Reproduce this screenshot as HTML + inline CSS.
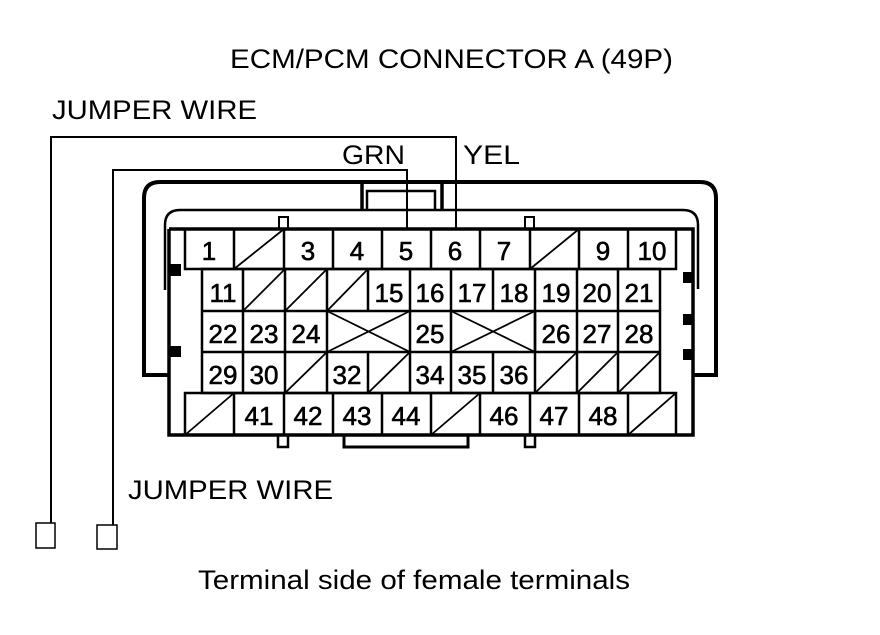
<!DOCTYPE html>
<html><head><style>html,body{margin:0;padding:0;background:#fff}</style></head>
<body>
<svg width="880" height="630" viewBox="0 0 880 630" xmlns="http://www.w3.org/2000/svg" font-family="Liberation Sans, Arial, sans-serif">
<rect width="880" height="630" fill="#fff"/>
<g fill="#000" font-size="27">
<text x="230" y="68" textLength="443" lengthAdjust="spacingAndGlyphs">ECM/PCM CONNECTOR A (49P)</text>
<text x="52" y="119" textLength="205" lengthAdjust="spacingAndGlyphs">JUMPER WIRE</text>
<text x="342" y="164" textLength="63" lengthAdjust="spacingAndGlyphs">GRN</text>
<text x="463" y="164" textLength="57" lengthAdjust="spacingAndGlyphs">YEL</text>
<text x="128" y="499" textLength="205" lengthAdjust="spacingAndGlyphs">JUMPER WIRE</text>
<text x="198" y="589" textLength="432" lengthAdjust="spacingAndGlyphs">Terminal side of female terminals</text>
</g>
<g fill="none" stroke="#000">
<polyline points="51,523 51,137 456,137 456,229" stroke-width="2"/>
<polyline points="113,525 113,170 407,170 407,229" stroke-width="2"/>
<rect x="36" y="523" width="19" height="25" stroke-width="1.5"/>
<rect x="97" y="525" width="20" height="24" stroke-width="1.5"/>
<path d="M169,375 H144 V198 Q144,182 160,182 H700 Q716,182 716,198 V375 H693" stroke-width="4"/>
<path d="M165,290 V225 Q165,210 180,210 H683 Q698,210 698,225 V289" stroke-width="2.5"/>
<line x1="362" y1="182" x2="362" y2="211" stroke-width="3.5"/>
<line x1="442" y1="182" x2="442" y2="211" stroke-width="3.5"/>
<polyline points="367,210 367,191 435,191 435,210" stroke-width="2.5"/>
<rect x="279" y="217" width="9" height="12" stroke-width="2"/>
<rect x="525" y="217" width="9" height="12" stroke-width="2"/>
<rect x="278" y="435" width="10" height="12" stroke-width="2.5"/>
<rect x="525" y="435" width="10" height="12" stroke-width="2.5"/>
<polyline points="344,435 344,447 468,447 468,435" stroke-width="3"/>
<polyline points="169,229 693,229 693,435 169,435 169,229" stroke-width="3.5"/>
</g>
<g fill="#000">
<rect x="169" y="264" width="12" height="12"/>
<rect x="169" y="346" width="12" height="11"/>
<rect x="683" y="272" width="10" height="11"/>
<rect x="683" y="314" width="10" height="11"/>
<rect x="683" y="349" width="10" height="11"/>
</g>
<g fill="none" stroke="#000" stroke-width="2.5">
<rect x="185" y="229" width="491" height="40"/>
<rect x="185" y="393" width="491" height="42"/>
<rect x="202" y="269" width="458" height="124"/>
<path d="M234,229V269M284,229V269M333,229V269M382,229V269M431,229V269M480,229V269M530,229V269M579,229V269M628,229V269"/>
<path d="M234,393V435M284,393V435M333,393V435M382,393V435M431,393V435M480,393V435M530,393V435M579,393V435M628,393V435"/>
<path d="M202,311H660M202,352H660"/>
<path d="M243,269V393M285,269V393M327,269V311M327,352V393M368,269V311M368,352V393M410,269V393M451,269V393M493,269V311M493,352V393M535,269V393M577,269V393M618,269V393"/>
<path d="M327,311V352M535,311V352"/>
</g>
<g stroke="#000" stroke-width="1.8">
<line x1="234" y1="269" x2="284" y2="229"/>
<line x1="530" y1="269" x2="579" y2="229"/>
<line x1="243" y1="311" x2="285" y2="269"/>
<line x1="285" y1="311" x2="327" y2="269"/>
<line x1="327" y1="311" x2="368" y2="269"/>
<line x1="327" y1="311" x2="410" y2="352"/>
<line x1="327" y1="352" x2="410" y2="311"/>
<line x1="451" y1="311" x2="535" y2="352"/>
<line x1="451" y1="352" x2="535" y2="311"/>
<line x1="285" y1="393" x2="327" y2="352"/>
<line x1="368" y1="393" x2="410" y2="352"/>
<line x1="535" y1="393" x2="577" y2="352"/>
<line x1="577" y1="393" x2="618" y2="352"/>
<line x1="618" y1="393" x2="660" y2="352"/>
<line x1="185" y1="435" x2="234" y2="393"/>
<line x1="431" y1="435" x2="480" y2="393"/>
<line x1="628" y1="435" x2="676" y2="393"/>
</g>
<g fill="#000" stroke="#000" stroke-width="0.6" font-size="26" text-anchor="middle">
<text x="209" y="260">1</text><text x="308" y="260">3</text><text x="357" y="260">4</text><text x="406" y="260">5</text><text x="455" y="260">6</text><text x="504" y="260">7</text><text x="603" y="260">9</text><text x="652" y="260">10</text>
<text x="223" y="302">11</text><text x="389" y="302">15</text><text x="430" y="302">16</text><text x="472" y="302">17</text><text x="514" y="302">18</text><text x="556" y="302">19</text><text x="597" y="302">20</text><text x="639" y="302">21</text>
<text x="223" y="343">22</text><text x="264" y="343">23</text><text x="306" y="343">24</text><text x="430" y="343">25</text><text x="556" y="343">26</text><text x="597" y="343">27</text><text x="639" y="343">28</text>
<text x="223" y="384">29</text><text x="264" y="384">30</text><text x="347" y="384">32</text><text x="430" y="384">34</text><text x="472" y="384">35</text><text x="514" y="384">36</text>
<text x="259" y="425">41</text><text x="308" y="425">42</text><text x="357" y="425">43</text><text x="406" y="425">44</text><text x="504" y="425">46</text><text x="554" y="425">47</text><text x="603" y="425">48</text>
</g>
</svg>
</body></html>
